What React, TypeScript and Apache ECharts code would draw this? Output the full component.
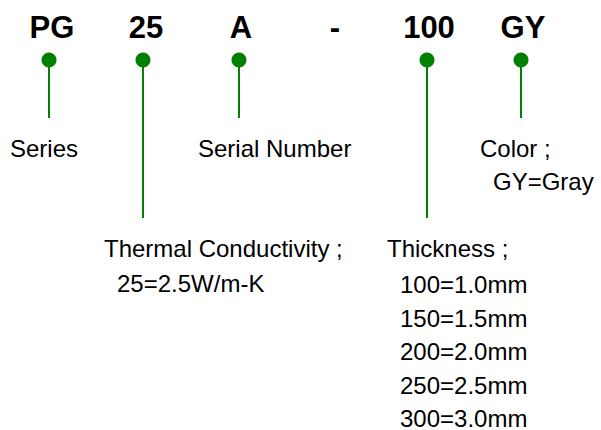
import React, { useEffect, useRef } from "react";
import * as echarts from "echarts";

// Part-number segments shown across the top
const codeParts = ["PG", "25", "A", "-", "100", "GY"];
// Which segments have a leader dot (the dash has none)
const hasLeader = [true, true, true, false, true, true];
// Leader kind: short (to first label row) or long (to second label block)
const leaderKind = ["short", "long", "short", "", "long", "short"];

// Explanation texts
const descTexts = [
  "Series",
  "Serial Number",
  "Color ;",
  "GY=Gray",
  "Thermal Conductivity ;",
  "25=2.5W/m-K",
  "Thickness ;",
  "100=1.0mm",
  "150=1.5mm",
  "200=2.0mm",
  "250=2.5mm",
  "300=3.0mm",
];

// ---- layout (positions in the hidden 601 x 430 plane) ----
const codeX = [52, 146, 241, 335, 429, 523];
const codeY = 27;
const dotX = [49, 143, 239, 335, 427, 521];
const dotY = 60;
const leaderEnd: Record<string, number> = { short: 118, long: 218 };
const descPos: [number, number][] = [
  [10, 148],
  [198, 148],
  [480, 148],
  [493, 181],
  [104, 248],
  [117, 283],
  [387, 248],
  [400, 284],
  [400, 318],
  [400, 351],
  [400, 385],
  [400, 418],
];

const GREEN = "#008000";
const FONT = "Liberation Sans";

export default function App() {
  const ref = useRef<HTMLDivElement>(null);

  useEffect(() => {
    document.body.style.margin = "0";
    if (!ref.current) return;
    const chart = echarts.init(ref.current, null, { renderer: "svg" });

    const dots = codeParts
      .map((_, i) => (hasLeader[i] ? [dotX[i], dotY] : null))
      .filter((d) => d !== null);

    const leaders = codeParts
      .map((_, i) =>
        hasLeader[i]
          ? { coords: [[dotX[i], dotY], [dotX[i], leaderEnd[leaderKind[i]]]] }
          : null
      )
      .filter((d) => d !== null);

    const codeData = codeParts.map((c, i) => ({ value: [codeX[i], codeY], name: c }));
    const descData = descTexts.map((t, i) => ({ value: descPos[i], name: t }));

    chart.setOption({
      animation: false,
      backgroundColor: "#ffffff",
      grid: { left: 0, right: 0, top: 0, bottom: 0 },
      xAxis: { type: "value", min: 0, max: 601, show: false },
      yAxis: { type: "value", min: 0, max: 430, inverse: true, show: false },
      series: [
        {
          type: "lines",
          coordinateSystem: "cartesian2d",
          silent: true,
          lineStyle: { color: GREEN, width: 2, opacity: 1, curveness: 0 },
          data: leaders,
          z: 1,
        },
        {
          type: "scatter",
          silent: true,
          symbol: "circle",
          symbolSize: 15,
          itemStyle: { color: GREEN, opacity: 1 },
          data: dots,
          z: 2,
        },
        {
          type: "scatter",
          silent: true,
          symbolSize: 0,
          itemStyle: { opacity: 1 },
          data: codeData,
          label: {
            show: true,
            position: [0, 0],
            align: "center",
            verticalAlign: "middle",
            formatter: (p: any) => p.name,
            fontFamily: FONT,
            fontWeight: "bold",
            fontSize: 31,
            color: "#000000",
            opacity: 1,
          },
          z: 3,
        },
        {
          type: "scatter",
          silent: true,
          symbolSize: 0,
          itemStyle: { opacity: 1 },
          data: descData,
          label: {
            show: true,
            position: [0, 0],
            align: "left",
            verticalAlign: "middle",
            formatter: (p: any) => p.name,
            fontFamily: FONT,
            fontSize: 24,
            color: "#000000",
            opacity: 1,
          },
          z: 3,
        },
      ],
    });

    return () => chart.dispose();
  }, []);

  return <div ref={ref} style={{ width: 601, height: 430 }} />;
}
